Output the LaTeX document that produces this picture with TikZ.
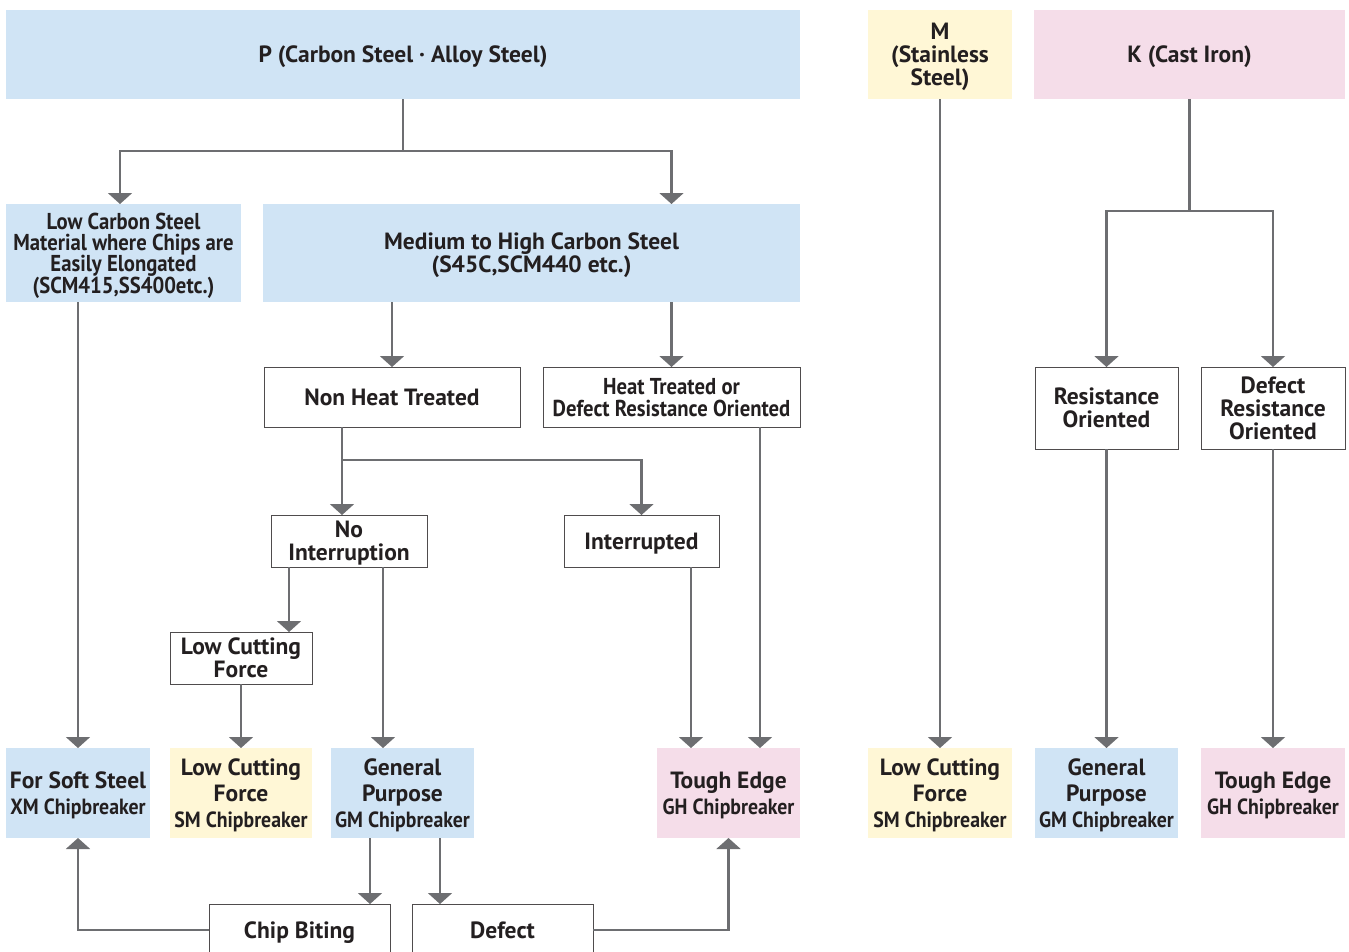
\documentclass[tikz,border=0pt]{standalone}
\usepackage{fontspec}
\setmainfont{PT Sans}
\newfontfamily\narrowfont[FakeStretch=0.9]{PT Sans}
\usetikzlibrary{arrows.meta,positioning}
\definecolor{pblue}{RGB}{208,228,245}
\definecolor{myellow}{RGB}{255,247,214}
\definecolor{kpink}{RGB}{245,221,233}
\definecolor{linegray}{RGB}{109,110,113}
\definecolor{inkgray}{RGB}{35,31,32}
\newcommand{\cb}[1]{\\{\narrowfont\fontsize{22}{26}\selectfont #1}}

\begin{document}
\begin{tikzpicture}[x=1pt,y=-1pt,line width=2.2pt,
    every node/.style={inner sep=0pt,outer sep=0pt,align=center,text=inkgray,text depth=0pt,
      font=\bfseries\fontsize{23.5}{23}\selectfont},
    head/.style={minimum height=89pt},
    catbox/.style={minimum height=98pt},
    stepbox/.style={draw=inkgray!80,line width=1pt,fill=white},
    endbox/.style={minimum height=90pt,minimum width=143pt,font=\bfseries\fontsize{23.5}{26}\selectfont},
    slim/.style={font=\bfseries\narrowfont\fontsize{23}{21}\selectfont},
    >={Triangle[width=24pt,length=11pt]}]
  \useasboundingbox (0,0) rectangle (1349,951);
  % material groups
  \node[head,fill=pblue,minimum width=794pt](P)at(403,54.5){P (Carbon Steel · Alloy Steel)};
  \node[head,fill=myellow,minimum width=144pt](M)at(940,54.5){M\\(Stainless\\Steel)};
  \node[head,fill=kpink,minimum width=311pt](K)at(1189.5,54.5){K (Cast Iron)};
  \node[catbox,fill=pblue,minimum width=235pt,slim](LC)at(123.5,253)
    {Low Carbon Steel\\Material where Chips are\\Easily Elongated\\(SCM415,SS400etc.)};
  \node[catbox,fill=pblue,minimum width=537pt](Med)at(531.5,253)
    {Medium to High Carbon Steel\\(S45C,SCM440 etc.)};
  % conditions
  \node[stepbox,minimum width=256pt,minimum height=60pt](NHT)at(392,397){Non Heat Treated};
  \node[stepbox,minimum width=257pt,minimum height=60pt,font=\bfseries\narrowfont\fontsize{23}{22}\selectfont](HT)at(671.5,397)
    {Heat Treated or\\Defect Resistance Oriented};
  \node[stepbox,minimum width=156pt,minimum height=52pt](NI)at(349,541){No\\Interruption};
  \node[stepbox,minimum width=155pt,minimum height=52pt](INT)at(641.5,541){Interrupted};
  \node[stepbox,minimum width=142pt,minimum height=52pt](LCW)at(241,658){Low Cutting\\Force};
  \node[stepbox,minimum width=143pt,minimum height=82pt](RO)at(1106.5,408){Resistance\\Oriented};
  \node[stepbox,minimum width=144pt,minimum height=82pt](DRO)at(1273,408)
    {Defect\\Resistance\\Oriented};
  % chipbreakers
  \node[endbox,fill=pblue,minimum width=144pt](XM)at(78,793){For Soft Steel\cb{XM Chipbreaker}};
  \node[endbox,fill=myellow,minimum width=142pt](SMa)at(241,793){Low Cutting\\Force\cb{SM Chipbreaker}};
  \node[endbox,fill=pblue](GPa)at(402.5,793){General\\Purpose\cb{GM Chipbreaker}};
  \node[endbox,fill=kpink](GHa)at(728.5,793){Tough Edge\cb{GH Chipbreaker}};
  \node[endbox,fill=myellow,minimum width=144pt](SMb)at(940,793){Low Cutting\\Force\cb{SM Chipbreaker}};
  \node[endbox,fill=pblue](GMb)at(1106.5,793){General\\Purpose\cb{GM Chipbreaker}};
  \node[endbox,fill=kpink,minimum width=144pt](GHb)at(1273,793){Tough Edge\cb{GH Chipbreaker}};
  % troubles
  \node[stepbox,minimum width=181pt,minimum height=52pt](CB)at(299.5,930){Chip Biting};
  \node[stepbox,minimum width=181pt,minimum height=52pt](DF)at(502.5,930){Defect};
  % helper points
  \coordinate(nh)at([xshift=-50pt]NHT.south);
  \coordinate(ni)at([xshift=-60pt]NI.south);
  \coordinate(nj)at([xshift=34pt]NI.south);
  \coordinate(ii)at([xshift=49.5pt]INT.south);
  \coordinate(hh)at([xshift=88.5pt]HT.south);
  \coordinate(g1)at([xshift=-32.5pt]GPa.south);
  \coordinate(g2)at([xshift=37.5pt]GPa.south);
  \begin{scope}[draw=linegray,->]
    \draw(P.south)--++(0,52)-|([xshift=-3.5pt]LC.north);
    \draw(P.south)--++(0,52)-|(Med.north-|HT.north);
    \draw(LC.south-|XM.north)--(XM.north);
    \draw(Med.south-|NHT.north)--(NHT.north);
    \draw(Med.south-|HT.north)--(HT.north);
    \draw(nh)--++(0,33)-|([xshift=-7pt]NI.north);
    \draw(nh)--++(0,33)-|(INT.north);
    \draw(ni)--(ni|-LCW.north);
    \draw(nj)--(nj|-GPa.north);
    \draw(LCW.south)--(SMa.north);
    \draw(ii)--(ii|-GHa.north);
    \draw(hh)--(hh|-GHa.north);
    \draw(M.south)--(SMb.north);
    \draw(K.south)--++(0,112)-|(RO.north);
    \draw(K.south)--++(0,112)-|(DRO.north);
    \draw(RO.south)--(GMb.north);
    \draw(DRO.south)--(GHb.north);
    \draw(g1)--(g1|-CB.north);
    \draw(g2)--(g2|-DF.north);
    \draw(CB.west)-|(XM.south);
    \draw(DF.east)-|(GHa.south);
  \end{scope}
\end{tikzpicture}
\end{document}
